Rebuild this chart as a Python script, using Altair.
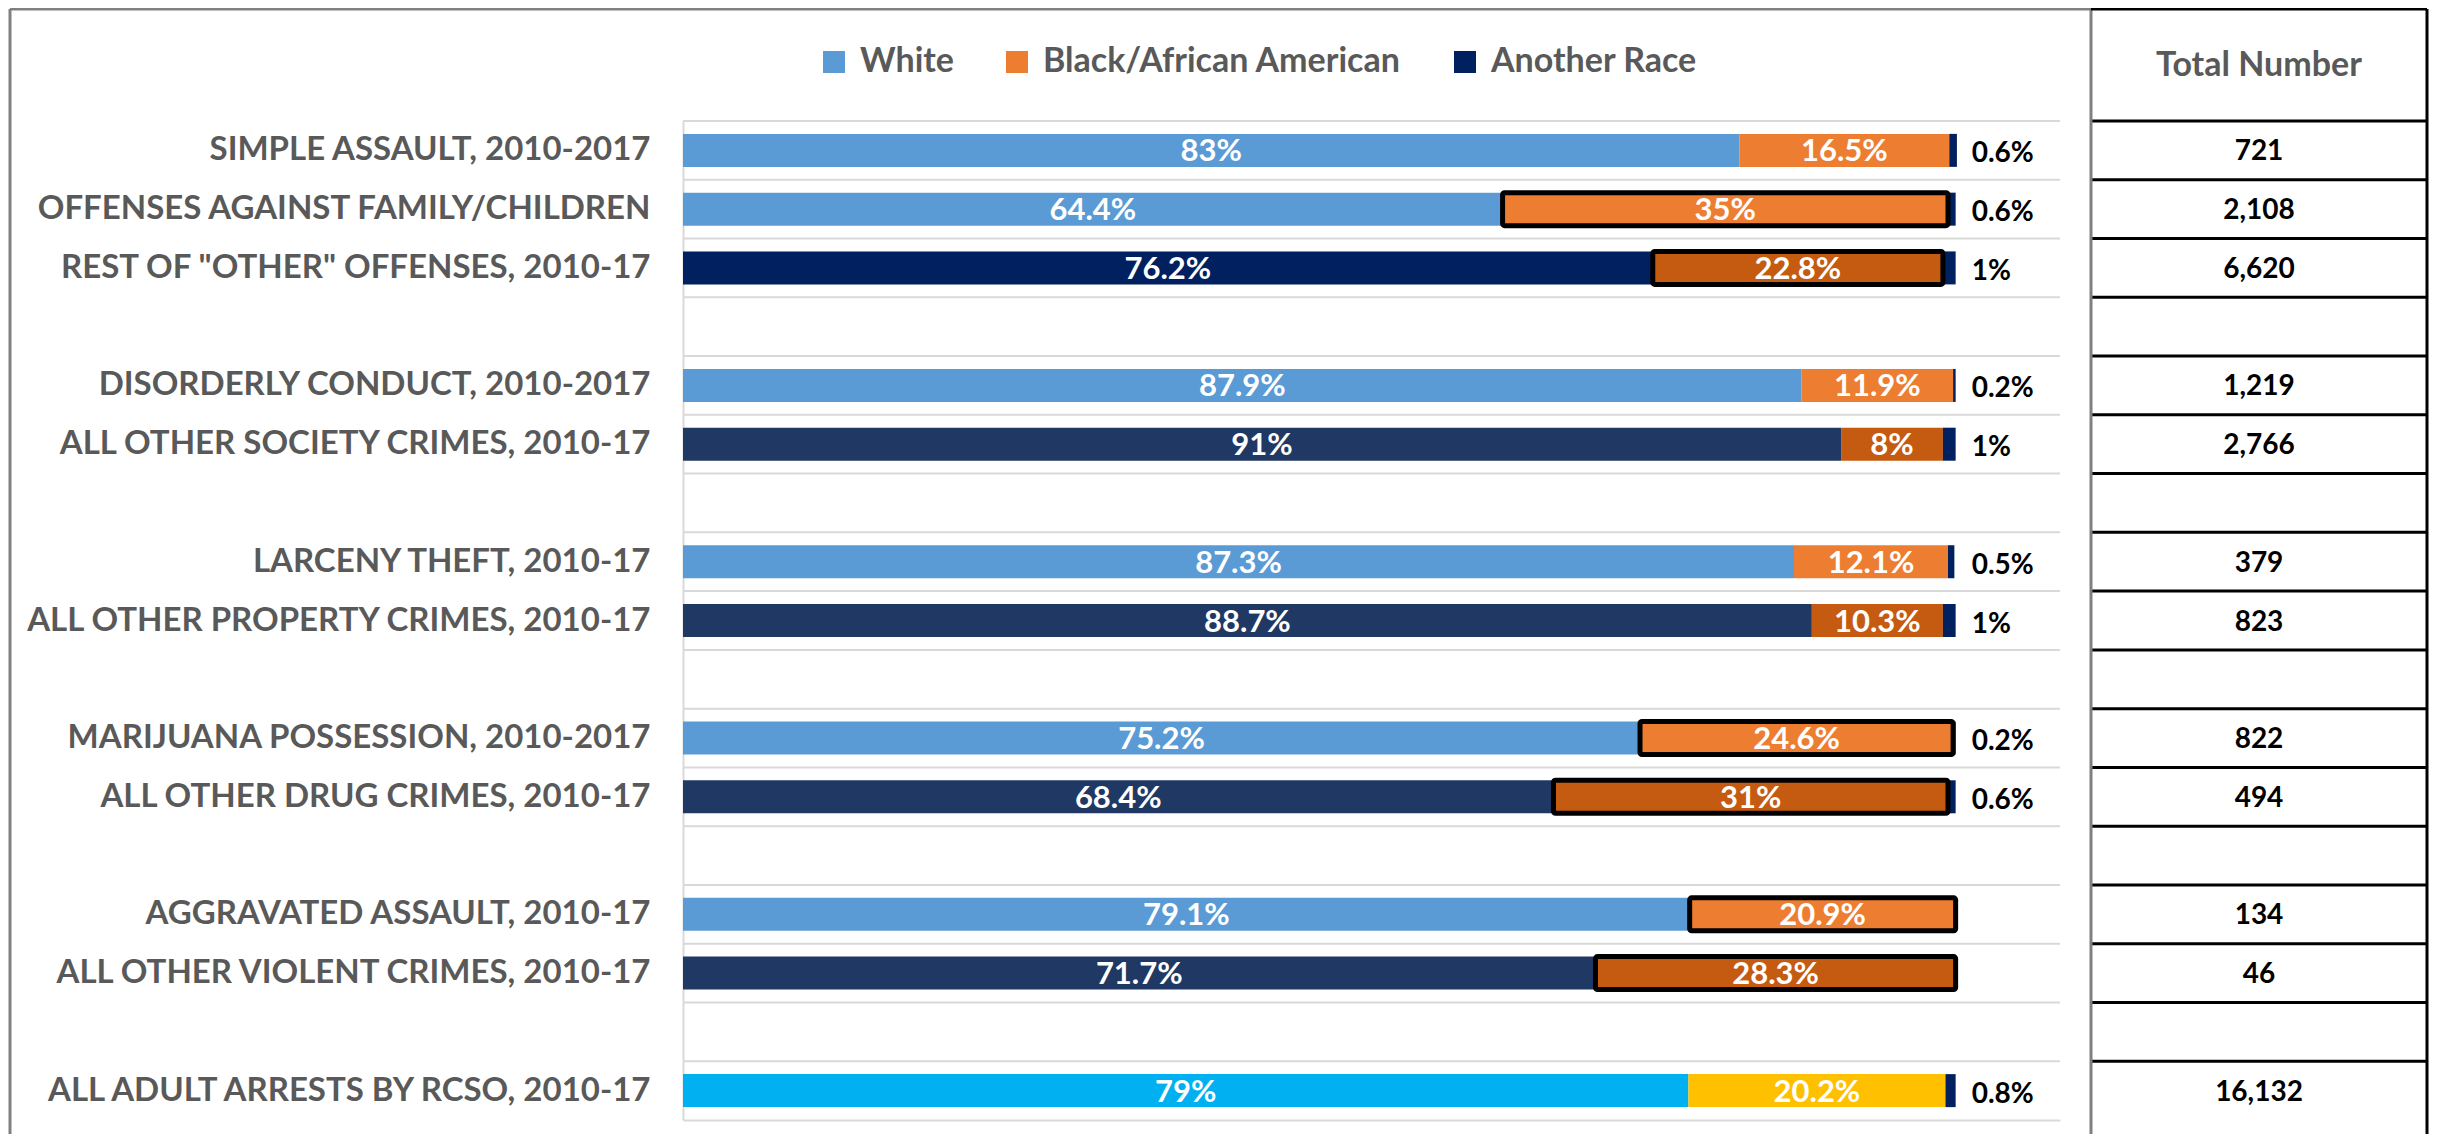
import altair as alt
import pandas as pd

categories = [
    "SIMPLE ASSAULT, 2010-2017",
    "OFFENSES AGAINST FAMILY/CHILDREN",
    'REST OF "OTHER" OFFENSES, 2010-17',
    "gap1",
    "DISORDERLY CONDUCT, 2010-2017",
    "ALL OTHER SOCIETY CRIMES, 2010-17",
    "gap2",
    "LARCENY THEFT, 2010-17",
    "ALL OTHER PROPERTY CRIMES, 2010-17",
    "gap3",
    "MARIJUANA POSSESSION, 2010-2017",
    "ALL OTHER DRUG CRIMES, 2010-17",
    "gap4",
    "AGGRAVATED ASSAULT, 2010-17",
    "ALL OTHER VIOLENT CRIMES, 2010-17",
    "gap5",
    "ALL ADULT ARRESTS BY RCSO, 2010-17",
]
white_pct = [83, 64.4, 76.2, None, 87.9, 91, None, 87.3, 88.7, None, 75.2, 68.4, None, 79.1, 71.7, None, 79]
black_pct = [16.5, 35, 22.8, None, 11.9, 8, None, 12.1, 10.3, None, 24.6, 31, None, 20.9, 28.3, None, 20.2]
other_pct = [0.6, 0.6, 1, None, 0.2, 1, None, 0.5, 1, None, 0.2, 0.6, None, 0, 0, None, 0.8]
totals = ["721", "2,108", "6,620", "", "1,219", "2,766", "", "379", "823", "",
          "822", "494", "", "134", "46", "", "16,132"]
white_shade = ["White", "White", "White navy", None, "White", "White dark", None, "White", "White dark", None,
               "White", "White dark", None, "White", "White dark", None, "White all"]
black_shade = ["Black/African American", "Black/African American", "Black dark", None,
               "Black/African American", "Black dark", None, "Black/African American", "Black dark", None,
               "Black/African American", "Black dark", None, "Black/African American", "Black dark", None,
               "Black all"]
outlined = [False, True, True, False, False, False, False, False, False, False,
            True, True, False, True, True, False, False]

color_domain = ["White", "Black/African American", "Another Race",
                "White navy", "White dark", "Black dark", "White all", "Black all"]
color_range = ["#5B9BD5", "#ED7D31", "#002060",
               "#002060", "#203864", "#C55A11", "#00B0F0", "#FFC000"]

records = []
outside = []
for i, cat in enumerate(categories):
    if white_pct[i] is None:
        continue
    x0 = 0.0
    segs = [(white_pct[i], white_shade[i], False),
            (black_pct[i], black_shade[i], outlined[i]),
            (other_pct[i], "Another Race", False)]
    for v, key, ol in segs:
        if v and v > 0:
            records.append({"cat": cat, "x0": x0, "x1": x0 + v, "mid": x0 + v / 2,
                            "key": key, "outlined": ol, "label": f"{v:g}%",
                            "inner": key != "Another Race"})
        x0 += v
    if other_pct[i] and other_pct[i] > 0:
        outside.append({"cat": cat, "label": f"{other_pct[i]:g}%"})

df = pd.DataFrame(records)
df_out = pd.DataFrame(outside)
df_cats = pd.DataFrame({"cat": categories})
df_tot = pd.DataFrame({"cat": categories, "total": totals})
df_tot = df_tot[df_tot["total"] != ""]
df_one = pd.DataFrame({"k": [1]})

W = 1377
H = 999
FONT = "Lato"

yscale = alt.Scale(domain=categories, paddingInner=0, paddingOuter=0)
xscale = alt.Scale(domain=[0, 108.2], nice=False, zero=True)

yaxis = alt.Axis(title=None, ticks=False, labelPadding=33, domainColor="#D9D9D9",
                 domainWidth=2, labelFont=FONT, labelFontSize=33,
                 labelFontWeight="bold", labelColor="#595959", labelLimit=800,
                 labelExpr="indexof(datum.value, 'gap') == 0 ? '' : datum.value")
xaxis = alt.Axis(title=None, labels=False, ticks=False, grid=False,
                 domainColor="#D9D9D9", domainWidth=2)


def Y(**kw):
    return alt.Y("cat:N", scale=yscale, axis=yaxis, title=None, **kw)


def X(field):
    return alt.X(field, scale=xscale, axis=xaxis, title=None)


color = alt.Color(
    "key:N",
    scale=alt.Scale(domain=color_domain, range=color_range),
    legend=alt.Legend(
        values=["White", "Black/African American", "Another Race"],
        orient="none", legendX=134, legendY=-76, direction="horizontal",
        title=None, symbolType="square", symbolSize=484, symbolStrokeWidth=0,
        symbolOpacity=1, labelFont=FONT, labelFontSize=34, labelFontWeight="bold",
        labelColor="#595959", columnPadding=46, labelOffset=9, labelLimit=600,
    ),
)

grid = alt.Chart(df_cats).mark_rule(color="#D9D9D9", strokeWidth=2).encode(
    y=Y(bandPosition=0)
)

bars = alt.Chart(df).mark_bar(size=33).encode(
    y=Y(), x=X("x0:Q"), x2="x1:Q", color=color,
)

bars_outlined = alt.Chart(df).transform_filter("datum.outlined").mark_bar(
    size=33, stroke="black", strokeWidth=5, cornerRadius=2
).encode(
    y=Y(), x=X("x0:Q"), x2="x1:Q", color=color,
)

inner_text = alt.Chart(df).transform_filter("datum.inner").mark_text(
    color="white", font=FONT, fontSize=31, fontWeight="bold", baseline="middle", dy=2
).encode(
    y=Y(), x=X("mid:Q"), text="label:N",
)

outer_text = alt.Chart(df_out).mark_text(
    color="black", font=FONT, fontSize=28, fontWeight="bold", align="left",
    baseline="middle", dx=16, dy=4
).encode(
    y=Y(), x=alt.datum(100), text="label:N",
)

# Table on the right
TL, TR, TOP, BOT = 1408, 1744, -112, 1040
table_rows = alt.Chart(df_cats).mark_rule(color="black", strokeWidth=3).encode(
    y=Y(bandPosition=0), x=alt.value(TL), x2=alt.value(TR),
)
table_text = alt.Chart(df_tot).mark_text(
    color="black", font=FONT, fontSize=28, fontWeight="bold", baseline="middle", dy=2
).encode(
    y=Y(), x=alt.value((TL + TR) / 2), text="total:N",
)
header = alt.Chart(df_one).mark_text(
    color="#595959", font=FONT, fontSize=34, fontWeight="bold", baseline="middle"
).encode(x=alt.value((TL + TR) / 2), y=alt.value(-55), text=alt.value("Total Number"))

frame_top = alt.Chart(df_one).mark_rule(color="#808080", strokeWidth=3).encode(
    x=alt.value(-673), x2=alt.value(TL), y=alt.value(TOP))
frame_left = alt.Chart(df_one).mark_rule(color="#808080", strokeWidth=3).encode(
    x=alt.value(-673), y=alt.value(TOP), y2=alt.value(BOT))
table_left = alt.Chart(df_one).mark_rule(color="#808080", strokeWidth=3).encode(
    x=alt.value(TL), y=alt.value(TOP), y2=alt.value(BOT))
table_right = alt.Chart(df_one).mark_rule(color="black", strokeWidth=3).encode(
    x=alt.value(TR), y=alt.value(TOP), y2=alt.value(BOT))
table_top = alt.Chart(df_one).mark_rule(color="black", strokeWidth=3).encode(
    x=alt.value(TL), x2=alt.value(TR), y=alt.value(TOP))

chart = alt.layer(
    grid, bars, bars_outlined, inner_text, outer_text,
    table_rows, table_text, header,
    frame_top, frame_left, table_left, table_right, table_top,
).properties(
    width=W, height=H,
    padding={"left": 675, "top": 113, "right": 370, "bottom": 14},
    autosize=alt.AutoSizeParams(type="none"),
    background="white",
).configure_view(stroke=None)

chart.save("out.html", embed_options={"renderer": "svg", "actions": False})
